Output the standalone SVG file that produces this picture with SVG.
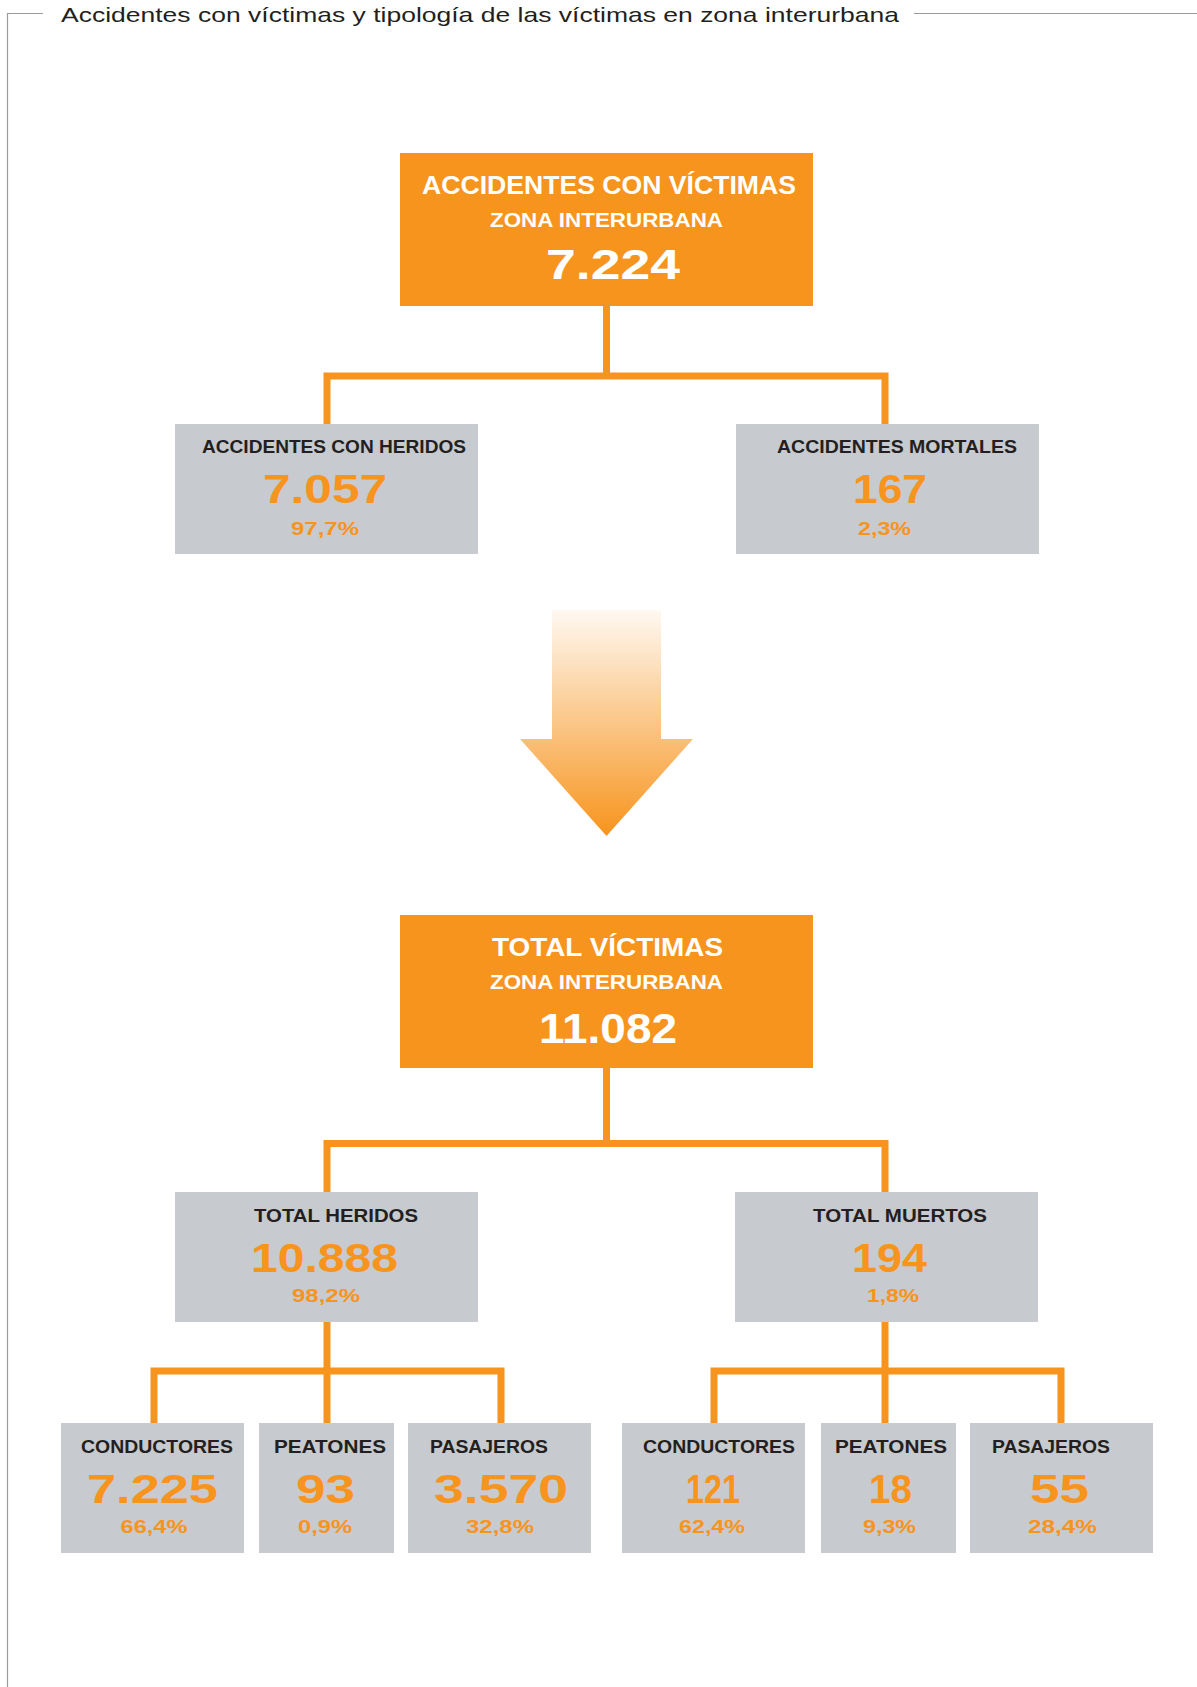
<svg xmlns="http://www.w3.org/2000/svg" width="1197" height="1687" viewBox="0 0 1197 1687">
<style>
text{font-family:"Liberation Sans",Arial,sans-serif;text-anchor:middle}
.title{font-size:21px;fill:#231F20;text-anchor:start}
.frame{fill:none;stroke:#9B9B9B;stroke-width:1.2}
.ob{fill:#F7941D}
.gb{fill:#C7CACE}
.oh{font-size:25px;font-weight:bold;fill:#fff}
.oz{font-size:19.5px;font-weight:bold;fill:#fff}
.on{font-size:43px;font-weight:bold;fill:#fff}
.lb{font-size:18.5px;font-weight:bold;fill:#231F20}
.num{font-size:40px;font-weight:bold;fill:#F7941D}
.pct{font-size:18px;font-weight:bold;fill:#F7941D}
.conn{fill:none;stroke:#F7941D;stroke-width:7;stroke-linejoin:miter;stroke-linecap:butt}
</style>
<defs>
<linearGradient id="ag" gradientUnits="userSpaceOnUse" x1="0" y1="610" x2="0" y2="836">
<stop offset="0" stop-color="#F7941D" stop-opacity="0.06"/>
<stop offset="1" stop-color="#F7941D" stop-opacity="1"/>
</linearGradient>
</defs>
<rect width="1197" height="1687" fill="#fff"/>
<g id="frame">
<path class="frame" d="M7.5,1687 V13.5 H43 M914,13.5 H1197"/>
<text class="title" x="61" y="22" textLength="838" lengthAdjust="spacingAndGlyphs">Accidentes con víctimas y tipología de las víctimas en zona interurbana</text>
</g>
<g id="connectors">
<path class="conn" d="M606.5,306 V376"/>
<path class="conn" d="M327,424 V376 H885 V424"/>
<path class="conn" d="M606.5,1068 V1143.5"/>
<path class="conn" d="M327,1192 V1143.5 H885 V1192"/>
<path class="conn" d="M327,1322 V1423"/>
<path class="conn" d="M154,1423 V1371 H501 V1423"/>
<path class="conn" d="M885,1322 V1423"/>
<path class="conn" d="M714,1423 V1371 H1061 V1423"/>
</g>
<g id="arrow">
<polygon points="552,610 661,610 661,739 693,739 606.5,836 520,739 552,739" fill="url(#ag)"/>
</g>
<g id="acc-total">
<rect class="ob" x="400" y="153" width="413" height="153"/>
<text class="oh" x="609" y="194" textLength="374" lengthAdjust="spacingAndGlyphs">ACCIDENTES CON VÍCTIMAS</text>
<text class="oz" x="606.5" y="227" textLength="233" lengthAdjust="spacingAndGlyphs">ZONA INTERURBANA</text>
<text class="on" x="613" y="279" textLength="134" lengthAdjust="spacingAndGlyphs">7.224</text>
</g>
<g id="acc-heridos">
<rect class="gb" x="175" y="424" width="303" height="130"/>
<text class="lb" x="334" y="453" textLength="264" lengthAdjust="spacingAndGlyphs">ACCIDENTES CON HERIDOS</text>
<text class="num" x="325" y="503" textLength="124" lengthAdjust="spacingAndGlyphs">7.057</text>
<text class="pct" x="325" y="535" textLength="68" lengthAdjust="spacingAndGlyphs">97,7%</text>
</g>
<g id="acc-mortales">
<rect class="gb" x="736" y="424" width="303" height="130"/>
<text class="lb" x="897" y="453" textLength="240" lengthAdjust="spacingAndGlyphs">ACCIDENTES MORTALES</text>
<text class="num" x="890" y="503" textLength="74" lengthAdjust="spacingAndGlyphs">167</text>
<text class="pct" x="884.5" y="535" textLength="53" lengthAdjust="spacingAndGlyphs">2,3%</text>
</g>
<g id="vic-total">
<rect class="ob" x="400" y="915" width="413" height="153"/>
<text class="oh" x="607.5" y="956" textLength="231" lengthAdjust="spacingAndGlyphs">TOTAL VÍCTIMAS</text>
<text class="oz" x="606.5" y="989" textLength="233" lengthAdjust="spacingAndGlyphs">ZONA INTERURBANA</text>
<text class="on" x="608" y="1043" textLength="138" lengthAdjust="spacingAndGlyphs">11.082</text>
</g>
<g id="tot-heridos">
<rect class="gb" x="175" y="1192" width="303" height="130"/>
<text class="lb" x="336" y="1222" textLength="164" lengthAdjust="spacingAndGlyphs">TOTAL HERIDOS</text>
<text class="num" x="324.5" y="1272" textLength="147" lengthAdjust="spacingAndGlyphs">10.888</text>
<text class="pct" x="326" y="1302" textLength="68" lengthAdjust="spacingAndGlyphs">98,2%</text>
</g>
<g id="tot-muertos">
<rect class="gb" x="735" y="1192" width="303" height="130"/>
<text class="lb" x="900" y="1222" textLength="174" lengthAdjust="spacingAndGlyphs">TOTAL MUERTOS</text>
<text class="num" x="889.5" y="1272" textLength="75" lengthAdjust="spacingAndGlyphs">194</text>
<text class="pct" x="893" y="1302" textLength="52" lengthAdjust="spacingAndGlyphs">1,8%</text>
</g>
<g id="her-conductores">
<rect class="gb" x="61" y="1423" width="183" height="130"/>
<text class="lb" x="157" y="1453" textLength="152" lengthAdjust="spacingAndGlyphs">CONDUCTORES</text>
<text class="num" x="152.5" y="1503" textLength="131" lengthAdjust="spacingAndGlyphs">7.225</text>
<text class="pct" x="154" y="1533" textLength="67" lengthAdjust="spacingAndGlyphs">66,4%</text>
</g>
<g id="her-peatones">
<rect class="gb" x="259" y="1423" width="135" height="130"/>
<text class="lb" x="330" y="1453" textLength="112" lengthAdjust="spacingAndGlyphs">PEATONES</text>
<text class="num" x="325.5" y="1503" textLength="59" lengthAdjust="spacingAndGlyphs">93</text>
<text class="pct" x="325" y="1533" textLength="54" lengthAdjust="spacingAndGlyphs">0,9%</text>
</g>
<g id="her-pasajeros">
<rect class="gb" x="408" y="1423" width="183" height="130"/>
<text class="lb" x="489" y="1453" textLength="118" lengthAdjust="spacingAndGlyphs">PASAJEROS</text>
<text class="num" x="501" y="1503" textLength="134" lengthAdjust="spacingAndGlyphs">3.570</text>
<text class="pct" x="500" y="1533" textLength="68" lengthAdjust="spacingAndGlyphs">32,8%</text>
</g>
<g id="mue-conductores">
<rect class="gb" x="622" y="1423" width="183" height="130"/>
<text class="lb" x="719" y="1453" textLength="152" lengthAdjust="spacingAndGlyphs">CONDUCTORES</text>
<text class="num" x="713" y="1503" textLength="54" lengthAdjust="spacingAndGlyphs">121</text>
<text class="pct" x="712" y="1533" textLength="66" lengthAdjust="spacingAndGlyphs">62,4%</text>
</g>
<g id="mue-peatones">
<rect class="gb" x="821" y="1423" width="135" height="130"/>
<text class="lb" x="891" y="1453" textLength="112" lengthAdjust="spacingAndGlyphs">PEATONES</text>
<text class="num" x="890.5" y="1503" textLength="43" lengthAdjust="spacingAndGlyphs">18</text>
<text class="pct" x="889.5" y="1533" textLength="53" lengthAdjust="spacingAndGlyphs">9,3%</text>
</g>
<g id="mue-pasajeros">
<rect class="gb" x="970" y="1423" width="183" height="130"/>
<text class="lb" x="1051" y="1453" textLength="118" lengthAdjust="spacingAndGlyphs">PASAJEROS</text>
<text class="num" x="1059.5" y="1503" textLength="59" lengthAdjust="spacingAndGlyphs">55</text>
<text class="pct" x="1062.5" y="1533" textLength="69" lengthAdjust="spacingAndGlyphs">28,4%</text>
</g>
</svg>
